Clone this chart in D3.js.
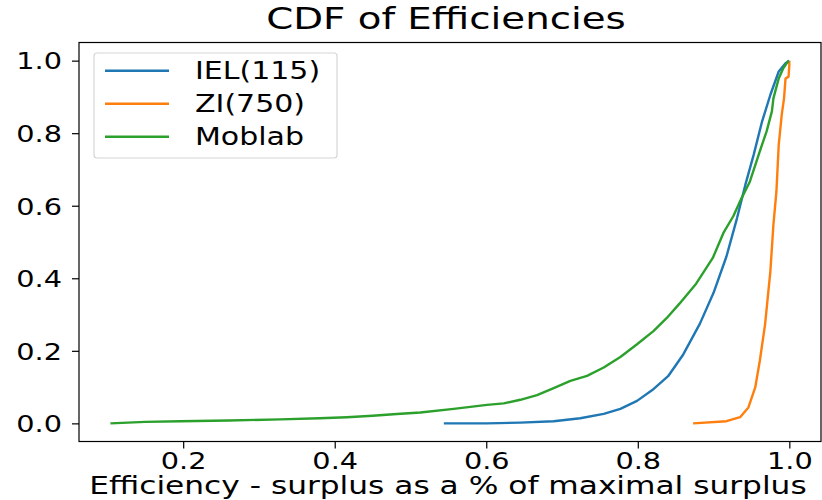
<!DOCTYPE html>
<html lang="en">
<head>
    <meta charset="UTF-8">
    <script type="text/javascript" src="https://d3js.org/d3.v7.min.js"></script>
    <title>CDF of Efficiencies</title>
    <style>
        body { margin: 0; background: #fff; }
        text { font-family: "DejaVu Sans", sans-serif; fill: #000; }
    </style>
</head>
<body>
    <svg id="plot"></svg>

    <script type="text/javascript">
    // values: [efficiency, cumulative share]
    var ielPoints = [[0.544,0.0],[0.601,0.0],[0.645,0.002],[0.689,0.006],[0.724,0.014],[0.755,0.026],
        [0.777,0.040],[0.799,0.062],[0.821,0.095],[0.840,0.130],[0.860,0.190],[0.882,0.275],[0.900,0.360],
        [0.917,0.460],[0.931,0.566],[0.942,0.658],[0.953,0.741],[0.964,0.832],[0.975,0.906],[0.986,0.970],
        [0.995,0.993],[1.0,1.0]];
    var ziPoints = [[0.873,0.0],[0.917,0.006],[0.935,0.017],[0.946,0.044],[0.955,0.099],[0.961,0.172],
        [0.968,0.273],[0.975,0.420],[0.979,0.548],[0.983,0.640],[0.986,0.768],[0.990,0.851],[0.993,0.896],
        [0.995,0.951],[0.999,0.956],[1.0,0.988],[1.0,1.0]];
    var moblabPoints = [[0.104,0.0],[0.15,0.004],[0.196,0.006],[0.26,0.008],[0.328,0.011],[0.38,0.014],
        [0.416,0.017],[0.45,0.021],[0.482,0.026],[0.513,0.030],[0.557,0.040],[0.601,0.051],[0.623,0.055],
        [0.645,0.065],[0.667,0.078],[0.689,0.097],[0.711,0.117],[0.733,0.131],[0.755,0.154],[0.777,0.183],
        [0.799,0.218],[0.821,0.255],[0.838,0.290],[0.855,0.330],[0.877,0.385],[0.899,0.456],[0.913,0.525],
        [0.926,0.571],[0.937,0.621],[0.948,0.667],[0.961,0.750],[0.970,0.805],[0.977,0.860],[0.979,0.896],
        [0.986,0.951],[0.992,0.979],[0.999,1.0]];
    var seriesNames = ["IEL(115)", "ZI(750)", "Moblab"];
    var seriesColors = ["#1f77b4", "#ff7f0e", "#2ca02c"];
    var xTicks = [0.2, 0.4, 0.6, 0.8, 1.0];
    var yTicks = [0.0, 0.2, 0.4, 0.6, 0.8, 1.0];

    const width = 822;
    const height = 500;
    const margin = {"top": 42.5, "bottom": 58.5, "left": 79, "right": 1};
    const sx = 1.25; // text in the reference is stretched sideways

    const svg = d3.select("#plot").attr("width", width).attr("height", height);

    var x = d3.scaleLinear()
        .domain([0.0625, 1.0418])
        .range([margin.left, width - margin.right]);
    var y = d3.scaleLinear()
        .domain([-0.05, 1.05])
        .range([height - margin.bottom, margin.top]);

    var line = d3.line()
        .x(d => x(d[0]))
        .y(d => y(d[1]));

    var series = [ielPoints, ziPoints, moblabPoints];
    series.forEach((pts, i) => {
        svg.append("path").attr("d", line(pts))
            .attr("fill", "none").attr("stroke", seriesColors[i])
            .attr("stroke-width", 2.4).attr("stroke-linejoin", "round");
    });

    // axes
    var x_axis = d3.axisBottom(x).tickValues(xTicks).tickFormat(d3.format(".1f"))
        .tickSize(7).tickSizeOuter(0);
    svg.append("g").attr("transform", `translate(0, ${height - margin.bottom})`).call(x_axis)
        .call(g => g.select(".domain").remove())
        .call(g => g.selectAll("line").attr("stroke", "#000").attr("stroke-width", 1.2))
        .call(g => g.selectAll("text").attr("font-size", 23).attr("font-family", "DejaVu Sans")
            .attr("fill", "#000").attr("y", 11).attr("transform", `scale(${sx},1)`));

    var y_axis = d3.axisLeft(y).tickValues(yTicks).tickFormat(d3.format(".1f"))
        .tickSize(7).tickSizeOuter(0);
    svg.append("g").attr("transform", `translate(${margin.left}, 0)`).call(y_axis)
        .call(g => g.select(".domain").remove())
        .call(g => g.selectAll("line").attr("stroke", "#000").attr("stroke-width", 1.2))
        .call(g => g.selectAll("text").attr("font-size", 23).attr("font-family", "DejaVu Sans")
            .attr("fill", "#000").attr("x", -13.6).attr("dy", "0.36em")
            .attr("transform", `scale(${sx},1)`));

    // frame
    svg.append("rect")
        .attr("x", margin.left).attr("y", margin.top)
        .attr("width", width - margin.left - margin.right)
        .attr("height", height - margin.top - margin.bottom)
        .attr("fill", "none").attr("stroke", "#000").attr("stroke-width", 1.2);

    // title and label
    svg.append("text").attr("text-anchor", "middle").attr("font-size", 31)
        .attr("transform", `translate(446, 29) scale(${sx},1)`)
        .text("CDF of Efficiencies");
    svg.append("text").attr("text-anchor", "middle").attr("font-size", 25)
        .attr("transform", `translate(448, 494) scale(${sx},1)`)
        .text("Efficiency - surplus as a % of maximal surplus");

    // legend
    const legend = svg.append("g");
    legend.append("rect").attr("x", 94).attr("y", 53).attr("width", 243).attr("height", 105)
        .attr("rx", 3).attr("fill", "#fff").attr("fill-opacity", 0.8)
        .attr("stroke", "#d6d6d6").attr("stroke-width", 1.2);
    seriesNames.forEach((name, i) => {
        var ly = 70.7 + i * 33;
        legend.append("line").attr("x1", 105).attr("x2", 169).attr("y1", ly).attr("y2", ly)
            .attr("stroke", seriesColors[i]).attr("stroke-width", 2.4);
        legend.append("text").attr("font-size", 24).attr("dy", "0.365em")
            .attr("transform", `translate(195, ${ly}) scale(${sx},1)`)
            .text(name);
    });
    </script>
</body>
</html>
